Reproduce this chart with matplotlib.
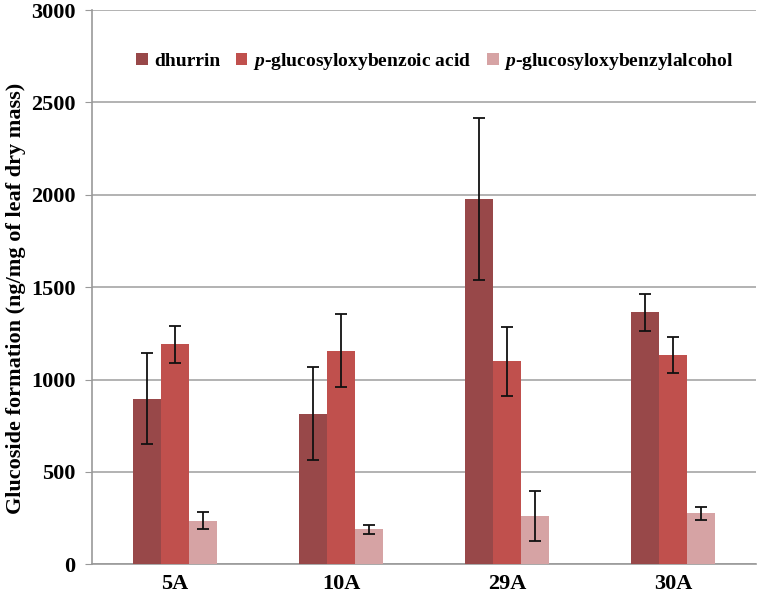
import matplotlib
matplotlib.use("Agg")
import matplotlib.pyplot as plt
import numpy as np

categories = ["5A", "10A", "29A", "30A"]
dhurrin = [896, 815, 1975, 1363]
dhurrin_err = [245, 252, 438, 99]
benzoic = [1192, 1156, 1099, 1134]
benzoic_err = [100, 196, 187, 96]
alcohol = [235, 190, 261, 275]
alcohol_err = [46, 24, 135, 35]

series = [
    ("dhurrin", dhurrin, dhurrin_err, "#984849"),
    ("$\\mathbf{\\it{p}}$-glucosyloxybenzoic acid", benzoic, benzoic_err, "#C0504D"),
    ("$\\mathbf{\\it{p}}$-glucosyloxybenzylalcohol", alcohol, alcohol_err, "#D6A3A4"),
]

plt.rcParams['font.family'] = ['Liberation Serif', 'DejaVu Serif']
plt.rcParams['mathtext.fontset'] = 'custom'
plt.rcParams['mathtext.it'] = 'Liberation Serif:italic:bold'
plt.rcParams['mathtext.bf'] = 'Liberation Serif:bold'
plt.rcParams['mathtext.rm'] = 'Liberation Serif:bold'

fig = plt.figure(figsize=(7.6, 5.99), dpi=100)
ax = fig.add_axes([92/760, 1 - 564.3/599, 664/760, (564.3 - 10)/599])

x = np.arange(len(categories))
w = 0.167
for i, (name, vals, errs, col) in enumerate(series):
    ax.bar(x + (i - 1) * w, vals, w, color=col, yerr=errs, capsize=4,
           error_kw=dict(elinewidth=1.3, capthick=1.3, ecolor="#111111"),
           label=name, zorder=3)

ax.set_xlim(-0.5, len(categories) - 0.5)
ax.set_ylim(0, 3000)
ax.set_yticks(np.arange(0, 3001, 500))
ax.set_xticks(x)
ax.set_xticklabels(categories, fontsize=16, fontweight='bold')
for lab in ax.get_yticklabels():
    lab.set_fontsize(16)
    lab.set_fontweight('bold')
ax.tick_params(axis='x', length=0, pad=7)
ax.tick_params(axis='y', length=5, color='#999999', pad=7)
ax.grid(axis='y', color='#A6A6A6', linewidth=1.2, zorder=0)
for s in ['top', 'right']:
    ax.spines[s].set_visible(False)
for s in ['left', 'bottom']:
    ax.spines[s].set_color('#999999')
    ax.spines[s].set_linewidth(1.2)

ax.set_ylabel("Glucoside formation (ng/mg of leaf dry mass)", fontsize=16,
              fontweight='bold')
ax.yaxis.set_label_coords(-0.1, 0.48)

leg = ax.legend(loc='upper left', bbox_to_anchor=(0.055, 0.94), ncol=3, frameon=False,
                prop=dict(size=14, weight='bold'), handlelength=0.6, handleheight=0.6,
                handletextpad=0.3, columnspacing=0.8, borderaxespad=0)

fig.savefig("out.png", dpi=100)
